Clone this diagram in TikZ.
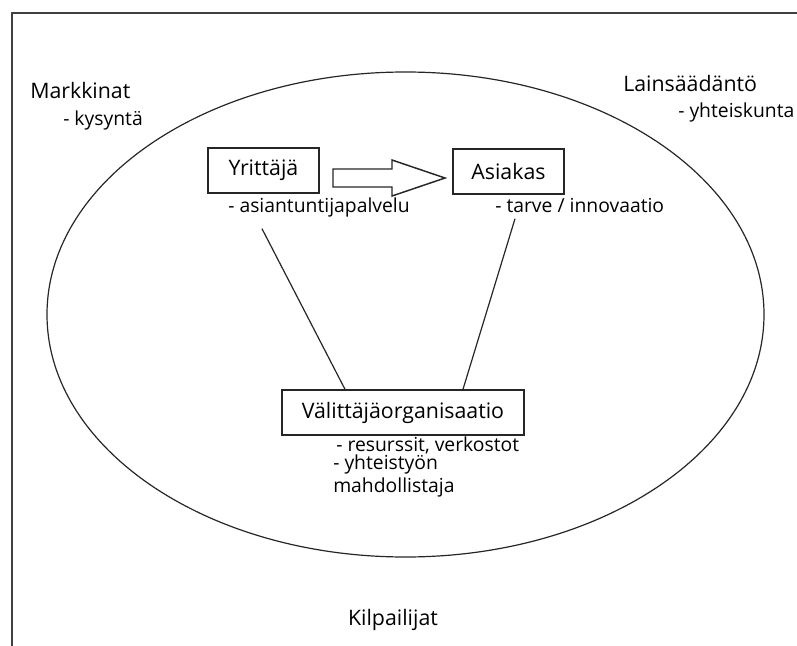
\documentclass[tikz,border=0pt]{standalone}
\usepackage{fontspec}
\setmainfont{Open Sans}
\usepackage{tikz}
\usetikzlibrary{calc}

\tikzset{
  box/.style={draw=black!85,line width=1.1pt,minimum width=83.25pt,minimum height=33.75pt,inner sep=0pt,font=\fontsize{16}{18}\selectfont},
  head/.style={anchor=west,inner sep=0pt,font=\fontsize{16}{18}\selectfont},
  note/.style={anchor=west,inner sep=0pt,font=\fontsize{14.5}{16}\selectfont},
  link/.style={draw=black!85,line width=0.9pt}
}

\begin{document}
\begin{tikzpicture}[x=0.75pt,y=-0.75pt]
\useasboundingbox (0,0) rectangle (797,646);
\draw[black!75,line width=1.5pt] (11.5,646) -- (11.5,12.5) -- (797,12.5);
\draw[black!85,line width=0.9pt] (405.5,314.5) ellipse [x radius=358.5, y radius=242.5];
\node[head] (mark) at (30,90) {Markkinat};
\node[note] (mark-n) at (63,120) {- kysyntä};
\node[head] (lain) at (623,83) {Lainsäädäntö};
\node[note] (lain-n) at (678,112) {- yhteiskunta};
\node[box] (yri) at (263.5,170.5) {Yrittäjä};
\node[box] (asi) at (508.5,171.5) {Asiakas};
\node[note] (yri-n) at (228,207) {- asiantuntijapalvelu};
\node[note] (asi-n) at (495,205) {- tarve / innovaatio};
\node[box,minimum width=181.5pt] (vo) at (403,412.5) {Välittäjäorganisaatio};
\node[note] (vo-n1) at (336,445) {- resurssit, verkostot};
\node[note] (vo-n2) at (333,464) {- yhteistyön};
\node[note] (vo-n3) at (333,487) {mahdollistaja};
\node[head,anchor=center] (kil) at (393,620) {Kilpailijat};
\draw[link,line width=1.1pt,line join=miter] (333,169) -- (392,169) -- (392,160) -- (445,178) -- (392,196) -- (392,187) -- (333,187) -- cycle;
\draw[link] ($(yri.south)+(-1.5,35)$) -- ($(vo.north)+(-58,0)$);
\draw[link] ($(asi.south)+(6.5,24)$) -- ($(vo.north)+(60,0)$);
\end{tikzpicture}
\end{document}
